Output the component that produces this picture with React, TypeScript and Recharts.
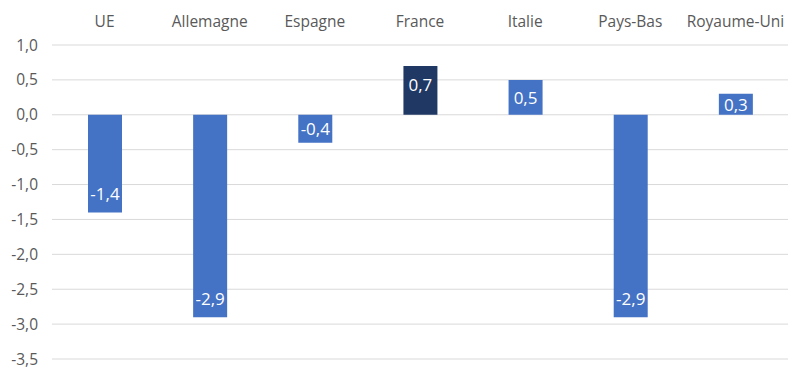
import { BarChart, Bar, XAxis, YAxis, CartesianGrid, Cell, LabelList } from "recharts";

const countries = ["UE", "Allemagne", "Espagne", "France", "Italie", "Pays-Bas", "Royaume-Uni"];
const values = [-1.4, -2.9, -0.4, 0.7, 0.5, -2.9, 0.3];
const yTicks = [-3.5, -3, -2.5, -2, -1.5, -1, -0.5, 0, 0.5, 1];
const highlight = "France";

const data = countries.map((c, i) => ({ country: c, value: values[i] }));

const fmt = (v: number) => v.toFixed(1).replace(".", ",");

const BarLabel = (props: any) => {
  const { x, y, width, height, value } = props;
  const top = Math.min(y, y + height);
  const h = Math.abs(height);
  const off = Math.min(19, h / 2);
  const cy = value >= 0 ? top + off : top + h - off;
  return (
    <text
      x={x + width / 2}
      y={cy}
      fill="#ffffff"
      fontSize={17}
      textAnchor="middle"
      dominantBaseline="central"
    >
      {fmt(value)}
    </text>
  );
};

export default function App() {
  return (
    <div style={{ position: "absolute", left: 0, top: 0, fontFamily: "'Open Sans', sans-serif" }}>
      <BarChart
        width={800}
        height={373}
        data={data}
        margin={{ top: 15, right: 12, left: 0, bottom: 14 }}
      >
        <CartesianGrid vertical={false} stroke="#d9d9d9" />
        <XAxis
          dataKey="country"
          orientation="top"
          axisLine={false}
          tickLine={false}
          tickSize={0}
          tickMargin={18}
          height={30}
          interval={0}
          tick={{ fill: "#595959", fontSize: 15.5 }}
        />
        <YAxis
          domain={[-3.5, 1]}
          ticks={yTicks}
          axisLine={false}
          tickLine={false}
          tickSize={0}
          tickMargin={14}
          width={52}
          tickFormatter={fmt}
          tick={{ fill: "#595959", fontSize: 15.5 }}
        />
        <Bar dataKey="value" barSize={34} isAnimationActive={false}>
          {data.map((d) => (
            <Cell key={d.country} fill={d.country === highlight ? "#203864" : "#4472c4"} />
          ))}
          <LabelList dataKey="value" content={BarLabel} />
        </Bar>
      </BarChart>
    </div>
  );
}
